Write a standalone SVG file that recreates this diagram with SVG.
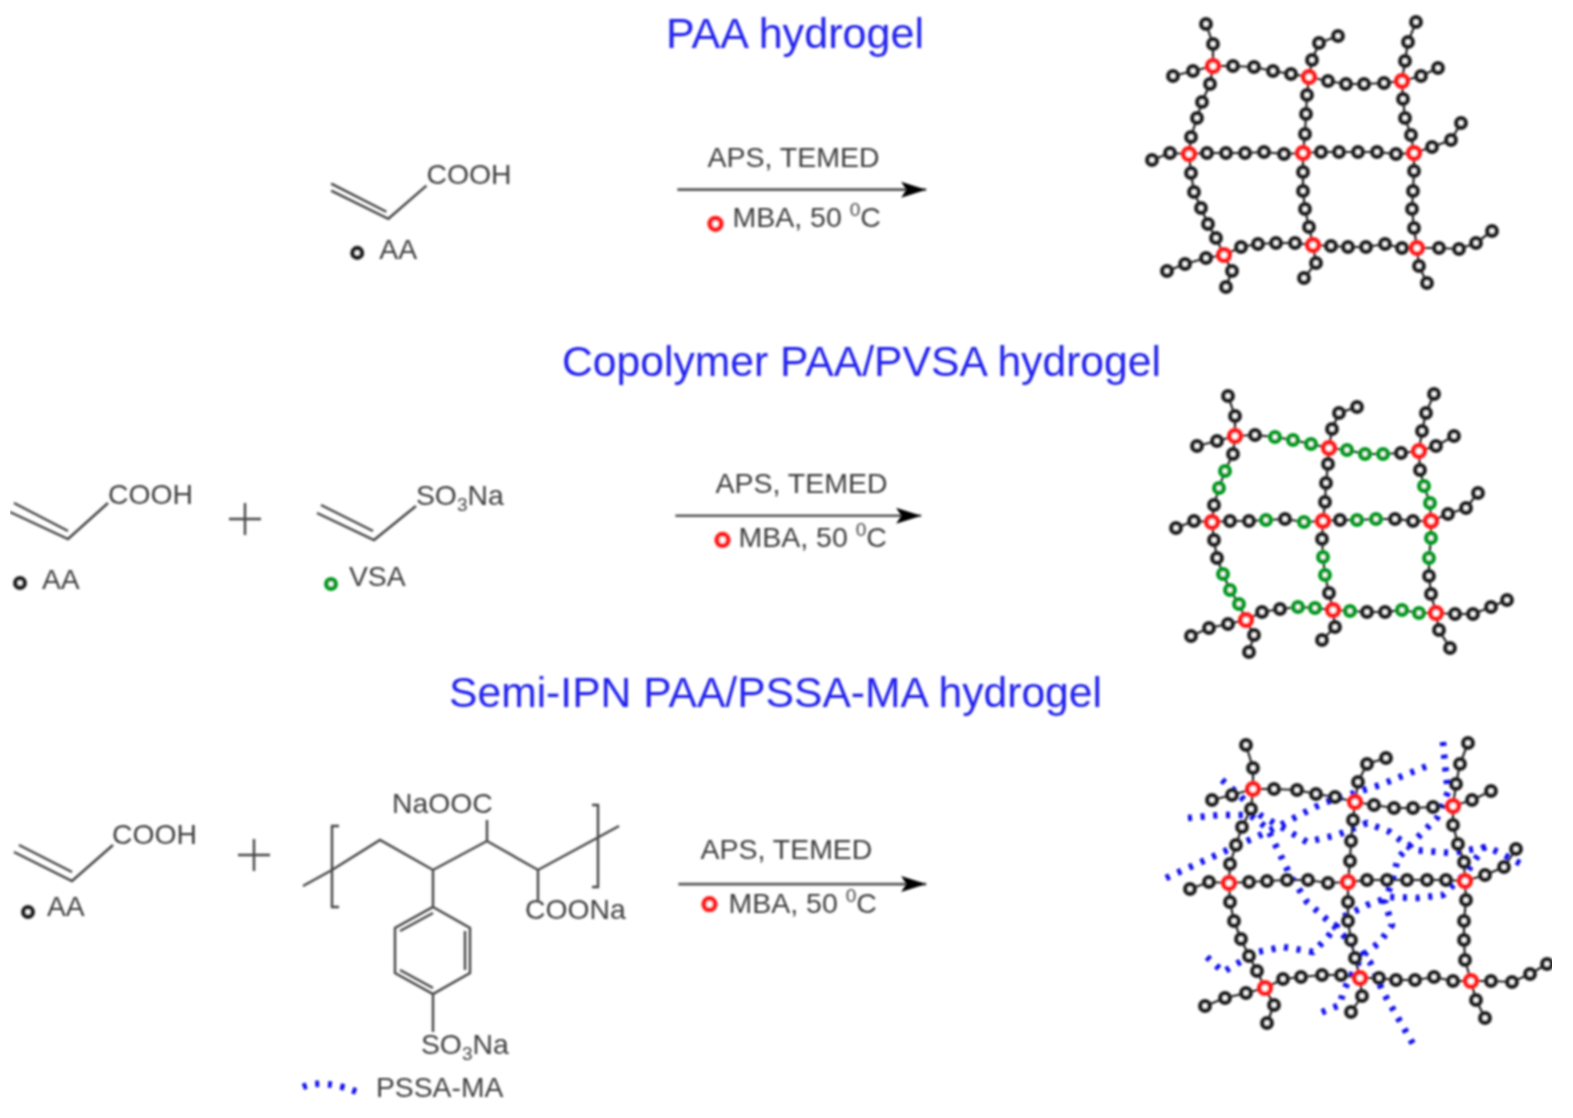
<svg xmlns="http://www.w3.org/2000/svg" width="1573" height="1118" viewBox="0 0 1573 1118">
<style>
text{font-family:"Liberation Sans",Arial,sans-serif}
.t{font-size:42.6px;fill:#2222ee}
.l{font-size:28.3px;fill:#3c3c3c}
.c{font-size:28.4px;fill:#3c3c3c}
.sup{font-size:19px}
.sub{font-size:19px}
.m{fill:none;stroke:#444;stroke-width:2.4}
.bond{fill:none;stroke:#222;stroke-width:2.2}
.k,.g{fill:#fff;r:4.7px;stroke-width:4.6}
.r{fill:#fff;r:5.6px;stroke:#ff1a1a;stroke-width:5}
.k{stroke:#222}
.g{stroke:#009a20}
.ar{fill:none;stroke:#555;stroke-width:2.6;marker-end:url(#ah)}
.blue{fill:none;stroke:#0a0aee;stroke-width:6.5;stroke-dasharray:4 8.7;stroke-linejoin:round}
</style>
<defs>
<filter id="soft" x="0" y="0" width="100%" height="100%"><feGaussianBlur stdDeviation="0.8"/></filter>
<marker id="ah" markerUnits="userSpaceOnUse" markerWidth="26" markerHeight="18" refX="25" refY="9" orient="auto"><path d="M0 1 L25 9 L0 17 L5 9 Z" fill="#000"/></marker>
</defs>
<rect width="1573" height="1118" fill="#fff"/>
<g filter="url(#soft)">
<g id="titles">
<text class="t" x="666" y="48" textLength="258" lengthAdjust="spacingAndGlyphs">PAA hydrogel</text>
<text class="t" x="562" y="376" textLength="599" lengthAdjust="spacingAndGlyphs">Copolymer PAA/PVSA hydrogel</text>
<text class="t" x="449" y="707" textLength="653" lengthAdjust="spacingAndGlyphs">Semi-IPN PAA/PSSA-MA hydrogel</text>
</g>
<g id="aa-1" transform="scale(1.0035)">
<path class="m" d="M330 183L385 211M330 190L387 218L425 185"/>
<text class="l" x="425" y="183">COOH</text>
<circle class="k" cx="356" cy="252"/>
<text class="l" x="378" y="258">AA</text>
</g>
<g id="aa-2">
<path class="m" d="M14 503L68 531M10 512L68 539L108 503"/>
<text class="l" x="108" y="504">COOH</text>
<circle class="k" cx="20" cy="583"/>
<text class="l" x="42" y="589">AA</text>
</g>
<g id="vsa">
<path class="m" d="M321 505L373 531M317 513L374 540L416 506"/>
<text class="l" x="416" y="505">SO<tspan class="sub" dy="6">3</tspan><tspan dy="-6">Na</tspan></text>
<circle class="g" cx="331" cy="584"/>
<text class="l" x="349" y="586">VSA</text>
</g>
<g id="aa-3">
<path class="m" d="M19 845L72 872M14 852L72 881L113 845"/>
<text class="l" x="112" y="844">COOH</text>
<circle class="k" cx="28" cy="912"/>
<text class="l" x="47" y="916">AA</text>
</g>
<g id="plus-signs">
<path class="m" d="M229 519H261M245 503V535M238 855H270M254 839V871"/>
</g>
<g id="pssa-ma">
<path class="m" d="M303 886L332 870L380 840L433 870L487 841L538 870L597 838L619 826M339 826H332V907H339M592 805H598V887H592M487 841V820M538 870V900M433 870V907M433 907L470 928V973L433 994L395 973V928ZM433 913L400 931M465 931V970M433 988L400 970M433 994V1032"/>
<text class="l" x="392" y="813">NaOOC</text>
<text class="l" x="525" y="919">COONa</text>
<text class="l" x="421" y="1054">SO<tspan class="sub" dy="6">3</tspan><tspan dy="-6">Na</tspan></text>
<path class="blue" d="M303 1087Q325 1078 362 1094"/>
<text class="l" x="376" y="1097">PSSA-MA</text>
</g>
<g id="connectors" transform="scale(1.0035)">
<path class="ar" d="M675 189H923"/>
<path class="ar" d="M673 514H918"/>
<path class="ar" d="M676 881H923"/>
</g>
<g id="conditions-1" transform="scale(1.0035)">
<text class="c" x="705" y="166">APS, TEMED</text>
<circle class="r" cx="713" cy="223"/>
<text class="c" x="730" y="226">MBA, 50 <tspan class="sup" dy="-11">0</tspan><tspan dy="11">C</tspan></text>
</g>
<g id="conditions-2" transform="scale(1.0035)">
<text class="c" x="713" y="491">APS, TEMED</text>
<circle class="r" cx="720" cy="538"/>
<text class="c" x="736" y="545">MBA, 50 <tspan class="sup" dy="-11">0</tspan><tspan dy="11">C</tspan></text>
</g>
<g id="conditions-3" transform="scale(1.0035)">
<text class="c" x="698" y="856">APS, TEMED</text>
<circle class="r" cx="707" cy="901"/>
<text class="c" x="726" y="910">MBA, 50 <tspan class="sup" dy="-11">0</tspan><tspan dy="11">C</tspan></text>
</g>
<g id="network-1">
<g>
<polyline class="bond" points="1206,24 1213,44 1213,66"/>
<polyline class="bond" points="1173,76 1193,71 1213,66 1233,66 1254,67 1273,71 1291,74 1309,77 1328,81 1346,84 1364,84 1384,83 1402,81 1421,76 1438,68"/>
<polyline class="bond" points="1309,77 1312,60 1319,43 1338,36"/>
<polyline class="bond" points="1402,81 1405,61 1408,42 1416,22"/>
<polyline class="bond" points="1213,66 1210,84 1202,102 1197,118 1191,137 1189,154 1191,173 1194,192 1201,208 1208,224 1216,238 1224,255"/>
<polyline class="bond" points="1309,77 1307,95 1306,114 1305,134 1303,153 1303,172 1303,191 1305,209 1309,227 1313,245 1316,263 1304,278"/>
<polyline class="bond" points="1402,81 1403,99 1405,118 1411,135 1414,153 1414,171 1413,191 1412,209 1414,228 1417,248 1419,266 1427,283"/>
<polyline class="bond" points="1152,160 1170,153 1189,154 1207,153 1226,153 1245,153 1264,152 1284,154 1303,153 1321,152 1339,152 1358,152 1377,152 1396,154 1414,153 1432,147 1451,140 1461,123"/>
<polyline class="bond" points="1167,271 1185,264 1206,258 1224,255 1241,247 1258,244 1276,243 1295,243 1313,245 1331,246 1348,247 1366,247 1385,244 1402,248 1417,248 1439,248 1459,249 1476,243 1492,231"/>
<polyline class="bond" points="1224,255 1232,271 1226,287"/>
</g>
<g>
<circle class="k" cx="1206" cy="24"/><circle class="k" cx="1213" cy="44"/><circle class="k" cx="1193" cy="71"/><circle class="k" cx="1173" cy="76"/>
<circle class="k" cx="1233" cy="66"/><circle class="k" cx="1254" cy="67"/><circle class="k" cx="1273" cy="71"/><circle class="k" cx="1291" cy="74"/>
<circle class="k" cx="1328" cy="81"/><circle class="k" cx="1346" cy="84"/><circle class="k" cx="1364" cy="84"/><circle class="k" cx="1384" cy="83"/>
<circle class="k" cx="1421" cy="76"/><circle class="k" cx="1438" cy="68"/>
<circle class="k" cx="1312" cy="60"/><circle class="k" cx="1319" cy="43"/><circle class="k" cx="1338" cy="36"/>
<circle class="k" cx="1405" cy="61"/><circle class="k" cx="1408" cy="42"/><circle class="k" cx="1416" cy="22"/>
<circle class="k" cx="1210" cy="84"/><circle class="k" cx="1202" cy="102"/><circle class="k" cx="1197" cy="118"/><circle class="k" cx="1191" cy="137"/>
<circle class="k" cx="1191" cy="173"/><circle class="k" cx="1194" cy="192"/><circle class="k" cx="1201" cy="208"/><circle class="k" cx="1208" cy="224"/><circle class="k" cx="1216" cy="238"/>
<circle class="k" cx="1307" cy="95"/><circle class="k" cx="1306" cy="114"/><circle class="k" cx="1305" cy="134"/>
<circle class="k" cx="1303" cy="172"/><circle class="k" cx="1303" cy="191"/><circle class="k" cx="1305" cy="209"/><circle class="k" cx="1309" cy="227"/>
<circle class="k" cx="1316" cy="263"/><circle class="k" cx="1304" cy="278"/>
<circle class="k" cx="1403" cy="99"/><circle class="k" cx="1405" cy="118"/><circle class="k" cx="1411" cy="135"/>
<circle class="k" cx="1414" cy="171"/><circle class="k" cx="1413" cy="191"/><circle class="k" cx="1412" cy="209"/><circle class="k" cx="1414" cy="228"/>
<circle class="k" cx="1419" cy="266"/><circle class="k" cx="1427" cy="283"/>
<circle class="k" cx="1152" cy="160"/><circle class="k" cx="1170" cy="153"/>
<circle class="k" cx="1207" cy="153"/><circle class="k" cx="1226" cy="153"/><circle class="k" cx="1245" cy="153"/><circle class="k" cx="1264" cy="152"/><circle class="k" cx="1284" cy="154"/>
<circle class="k" cx="1321" cy="152"/><circle class="k" cx="1339" cy="152"/><circle class="k" cx="1358" cy="152"/><circle class="k" cx="1377" cy="152"/><circle class="k" cx="1396" cy="154"/>
<circle class="k" cx="1432" cy="147"/><circle class="k" cx="1451" cy="140"/><circle class="k" cx="1461" cy="123"/>
<circle class="k" cx="1167" cy="271"/><circle class="k" cx="1185" cy="264"/><circle class="k" cx="1206" cy="258"/>
<circle class="k" cx="1241" cy="247"/><circle class="k" cx="1258" cy="244"/><circle class="k" cx="1276" cy="243"/><circle class="k" cx="1295" cy="243"/>
<circle class="k" cx="1331" cy="246"/><circle class="k" cx="1348" cy="247"/><circle class="k" cx="1366" cy="247"/><circle class="k" cx="1385" cy="244"/><circle class="k" cx="1402" cy="248"/>
<circle class="k" cx="1439" cy="248"/><circle class="k" cx="1459" cy="249"/><circle class="k" cx="1476" cy="243"/><circle class="k" cx="1492" cy="231"/>
<circle class="k" cx="1232" cy="271"/><circle class="k" cx="1226" cy="287"/>
<circle class="r" cx="1213" cy="66"/><circle class="r" cx="1309" cy="77"/><circle class="r" cx="1402" cy="81"/><circle class="r" cx="1189" cy="154"/><circle class="r" cx="1303" cy="153"/><circle class="r" cx="1414" cy="153"/><circle class="r" cx="1224" cy="255"/><circle class="r" cx="1313" cy="245"/><circle class="r" cx="1417" cy="248"/>
</g>
</g>
<g id="network-2">
<g>
<polyline class="bond" points="1228,396 1235,416 1235,436"/>
<polyline class="bond" points="1197,446 1217,441 1235,436 1255,435 1275,437 1293,440 1311,444 1329,448 1347,450 1365,454 1383,454 1401,453 1419,451 1436,446 1454,436"/>
<polyline class="bond" points="1329,448 1332,429 1339,413 1357,407"/>
<polyline class="bond" points="1419,451 1422,431 1426,413 1434,394"/>
<polyline class="bond" points="1235,436 1233,454 1225,471 1219,488 1214,505 1212,522 1214,540 1217,558 1223,574 1230,590 1239,604 1246,620"/>
<polyline class="bond" points="1329,448 1328,464 1326,483 1325,502 1323,521 1322,539 1323,557 1325,575 1329,593 1333,610 1335,627 1322,640"/>
<polyline class="bond" points="1419,451 1420,470 1424,486 1430,503 1431,521 1431,538 1429,558 1429,576 1431,594 1436,613 1439,630 1450,648"/>
<polyline class="bond" points="1176,528 1194,521 1212,522 1230,521 1249,521 1266,520 1285,519 1304,522 1323,521 1340,520 1357,520 1376,519 1395,519 1413,521 1431,521 1448,514 1466,508 1478,493"/>
<polyline class="bond" points="1191,636 1209,628 1228,624 1246,620 1262,612 1280,609 1298,607 1315,608 1333,610 1350,611 1367,612 1385,612 1402,610 1419,613 1436,613 1455,614 1473,614 1491,607 1507,600"/>
<polyline class="bond" points="1246,620 1254,635 1249,652"/>
</g>
<g>
<circle class="k" cx="1228" cy="396"/><circle class="k" cx="1235" cy="416"/><circle class="k" cx="1217" cy="441"/><circle class="k" cx="1197" cy="446"/>
<circle class="k" cx="1255" cy="435"/><circle class="g" cx="1275" cy="437"/><circle class="g" cx="1293" cy="440"/><circle class="g" cx="1311" cy="444"/>
<circle class="g" cx="1347" cy="450"/><circle class="g" cx="1365" cy="454"/><circle class="g" cx="1383" cy="454"/><circle class="k" cx="1401" cy="453"/>
<circle class="k" cx="1332" cy="429"/><circle class="k" cx="1339" cy="413"/><circle class="k" cx="1357" cy="407"/>
<circle class="k" cx="1422" cy="431"/><circle class="k" cx="1426" cy="413"/><circle class="k" cx="1434" cy="394"/><circle class="k" cx="1436" cy="446"/><circle class="k" cx="1454" cy="436"/>
<circle class="k" cx="1233" cy="454"/><circle class="g" cx="1225" cy="471"/><circle class="g" cx="1219" cy="488"/><circle class="k" cx="1214" cy="505"/>
<circle class="k" cx="1328" cy="464"/><circle class="k" cx="1326" cy="483"/><circle class="k" cx="1325" cy="502"/>
<circle class="k" cx="1420" cy="470"/><circle class="g" cx="1424" cy="486"/><circle class="g" cx="1430" cy="503"/>
<circle class="k" cx="1176" cy="528"/><circle class="k" cx="1194" cy="521"/><circle class="k" cx="1230" cy="521"/><circle class="k" cx="1249" cy="521"/><circle class="g" cx="1266" cy="520"/><circle class="k" cx="1285" cy="519"/><circle class="g" cx="1304" cy="522"/>
<circle class="k" cx="1340" cy="520"/><circle class="g" cx="1357" cy="520"/><circle class="g" cx="1376" cy="519"/><circle class="k" cx="1395" cy="519"/><circle class="k" cx="1413" cy="521"/>
<circle class="k" cx="1448" cy="514"/><circle class="k" cx="1466" cy="508"/><circle class="k" cx="1478" cy="493"/>
<circle class="k" cx="1214" cy="540"/><circle class="k" cx="1217" cy="558"/><circle class="g" cx="1223" cy="574"/><circle class="g" cx="1230" cy="590"/><circle class="g" cx="1239" cy="604"/>
<circle class="k" cx="1322" cy="539"/><circle class="g" cx="1323" cy="557"/><circle class="g" cx="1325" cy="575"/><circle class="k" cx="1329" cy="593"/>
<circle class="g" cx="1431" cy="538"/><circle class="g" cx="1429" cy="558"/><circle class="k" cx="1429" cy="576"/><circle class="k" cx="1431" cy="594"/>
<circle class="k" cx="1262" cy="612"/><circle class="k" cx="1280" cy="609"/><circle class="g" cx="1298" cy="607"/><circle class="g" cx="1315" cy="608"/>
<circle class="g" cx="1350" cy="611"/><circle class="k" cx="1367" cy="612"/><circle class="k" cx="1385" cy="612"/><circle class="g" cx="1402" cy="610"/><circle class="g" cx="1419" cy="613"/>
<circle class="k" cx="1455" cy="614"/><circle class="k" cx="1473" cy="614"/><circle class="k" cx="1491" cy="607"/><circle class="k" cx="1507" cy="600"/>
<circle class="k" cx="1228" cy="624"/><circle class="k" cx="1209" cy="628"/><circle class="k" cx="1191" cy="636"/>
<circle class="k" cx="1254" cy="635"/><circle class="k" cx="1249" cy="652"/><circle class="k" cx="1335" cy="627"/><circle class="k" cx="1322" cy="640"/><circle class="k" cx="1439" cy="630"/><circle class="k" cx="1450" cy="648"/>
<circle class="r" cx="1235" cy="436"/><circle class="r" cx="1329" cy="448"/><circle class="r" cx="1419" cy="451"/><circle class="r" cx="1212" cy="522"/><circle class="r" cx="1323" cy="521"/><circle class="r" cx="1431" cy="521"/><circle class="r" cx="1246" cy="620"/><circle class="r" cx="1333" cy="610"/><circle class="r" cx="1436" cy="613"/>
</g>
</g>
<g id="network-3">
<g>
<polyline class="blue" points="1166,878 1267,832 1323,803 1380,785 1430,765"/>
<polyline class="blue" points="1188,818 1220,815 1250,815 1267,828 1277,848 1290,875 1307,902 1333,925 1350,942 1370,962 1383,992 1413,1044"/>
<polyline class="blue" points="1222,780 1237,793 1260,815 1283,828 1307,842 1337,835 1367,823 1390,832 1413,850 1450,853 1487,847 1500,853 1525,866"/>
<polyline class="blue" points="1443,742 1445,765 1448,792 1437,818 1417,838 1398,858 1393,878 1385,902 1392,925 1380,942 1363,955 1353,972 1343,992 1340,1005 1315,1015"/>
<polyline class="blue" points="1207,957 1223,972 1257,952 1283,947 1313,952 1327,938 1343,917 1367,905 1390,897 1417,898 1443,895 1467,872 1483,848 1490,845"/>
</g>
<g>
<polyline class="bond" points="1246,745 1253,768 1253,789"/>
<polyline class="bond" points="1212,800 1232,795 1253,789 1274,789 1297,790 1316,794 1335,797 1355,802 1374,805 1394,808 1413,808 1433,807 1453,806 1472,800 1491,791"/>
<polyline class="bond" points="1355,802 1358,782 1367,764 1386,758"/>
<polyline class="bond" points="1453,806 1456,784 1460,764 1468,743"/>
<polyline class="bond" points="1253,789 1251,809 1242,827 1236,845 1230,864 1229,883 1230,902 1234,921 1241,939 1249,956 1257,971 1265,988"/>
<polyline class="bond" points="1355,802 1353,820 1351,841 1350,861 1348,882 1348,902 1348,921 1351,940 1355,958 1360,978 1362,996 1351,1012"/>
<polyline class="bond" points="1453,806 1453,825 1458,844 1464,862 1465,881 1466,900 1464,921 1464,940 1465,960 1471,981 1476,1000 1485,1018"/>
<polyline class="bond" points="1190,889 1209,882 1229,883 1249,882 1267,881 1287,880 1308,880 1328,883 1348,882 1367,880 1387,880 1407,880 1427,880 1446,880 1465,881 1485,875 1504,867 1516,849"/>
<polyline class="bond" points="1205,1006 1225,998 1246,993 1265,988 1283,979 1301,977 1322,975 1341,975 1360,978 1379,978 1396,980 1415,980 1434,977 1453,981 1471,981 1491,981 1512,982 1530,974 1547,964"/>
<polyline class="bond" points="1265,988 1274,1005 1267,1023"/>
</g>
<g>
<circle class="k" cx="1246" cy="745"/><circle class="k" cx="1253" cy="768"/><circle class="k" cx="1232" cy="795"/><circle class="k" cx="1212" cy="800"/>
<circle class="k" cx="1274" cy="789"/><circle class="k" cx="1297" cy="790"/><circle class="k" cx="1316" cy="794"/><circle class="k" cx="1335" cy="797"/>
<circle class="k" cx="1374" cy="805"/><circle class="k" cx="1394" cy="808"/><circle class="k" cx="1413" cy="808"/><circle class="k" cx="1433" cy="807"/>
<circle class="k" cx="1358" cy="782"/><circle class="k" cx="1367" cy="764"/><circle class="k" cx="1386" cy="758"/>
<circle class="k" cx="1456" cy="784"/><circle class="k" cx="1460" cy="764"/><circle class="k" cx="1468" cy="743"/><circle class="k" cx="1472" cy="800"/><circle class="k" cx="1491" cy="791"/>
<circle class="k" cx="1251" cy="809"/><circle class="k" cx="1242" cy="827"/><circle class="k" cx="1236" cy="845"/><circle class="k" cx="1230" cy="864"/>
<circle class="k" cx="1353" cy="820"/><circle class="k" cx="1351" cy="841"/><circle class="k" cx="1350" cy="861"/>
<circle class="k" cx="1453" cy="825"/><circle class="k" cx="1458" cy="844"/><circle class="k" cx="1464" cy="862"/>
<circle class="k" cx="1190" cy="889"/><circle class="k" cx="1209" cy="882"/><circle class="k" cx="1249" cy="882"/><circle class="k" cx="1267" cy="881"/><circle class="k" cx="1287" cy="880"/><circle class="k" cx="1308" cy="880"/><circle class="k" cx="1328" cy="883"/>
<circle class="k" cx="1367" cy="880"/><circle class="k" cx="1387" cy="880"/><circle class="k" cx="1407" cy="880"/><circle class="k" cx="1427" cy="880"/><circle class="k" cx="1446" cy="880"/>
<circle class="k" cx="1485" cy="875"/><circle class="k" cx="1504" cy="867"/><circle class="k" cx="1516" cy="849"/>
<circle class="k" cx="1230" cy="902"/><circle class="k" cx="1234" cy="921"/><circle class="k" cx="1241" cy="939"/><circle class="k" cx="1249" cy="956"/><circle class="k" cx="1257" cy="971"/>
<circle class="k" cx="1348" cy="902"/><circle class="k" cx="1348" cy="921"/><circle class="k" cx="1351" cy="940"/><circle class="k" cx="1355" cy="958"/>
<circle class="k" cx="1466" cy="900"/><circle class="k" cx="1464" cy="921"/><circle class="k" cx="1464" cy="940"/><circle class="k" cx="1465" cy="960"/>
<circle class="k" cx="1283" cy="979"/><circle class="k" cx="1301" cy="977"/><circle class="k" cx="1322" cy="975"/><circle class="k" cx="1341" cy="975"/>
<circle class="k" cx="1379" cy="978"/><circle class="k" cx="1396" cy="980"/><circle class="k" cx="1415" cy="980"/><circle class="k" cx="1434" cy="977"/><circle class="k" cx="1453" cy="981"/>
<circle class="k" cx="1491" cy="981"/><circle class="k" cx="1512" cy="982"/><circle class="k" cx="1530" cy="974"/><circle class="k" cx="1547" cy="964"/>
<circle class="k" cx="1246" cy="993"/><circle class="k" cx="1225" cy="998"/><circle class="k" cx="1205" cy="1006"/>
<circle class="k" cx="1274" cy="1005"/><circle class="k" cx="1267" cy="1023"/><circle class="k" cx="1362" cy="996"/><circle class="k" cx="1351" cy="1012"/><circle class="k" cx="1476" cy="1000"/><circle class="k" cx="1485" cy="1018"/>
<circle class="r" cx="1253" cy="789"/><circle class="r" cx="1355" cy="802"/><circle class="r" cx="1453" cy="806"/><circle class="r" cx="1229" cy="883"/><circle class="r" cx="1348" cy="882"/><circle class="r" cx="1465" cy="881"/><circle class="r" cx="1265" cy="988"/><circle class="r" cx="1360" cy="978"/><circle class="r" cx="1471" cy="981"/>
</g>
</g>
</g>
</svg>
